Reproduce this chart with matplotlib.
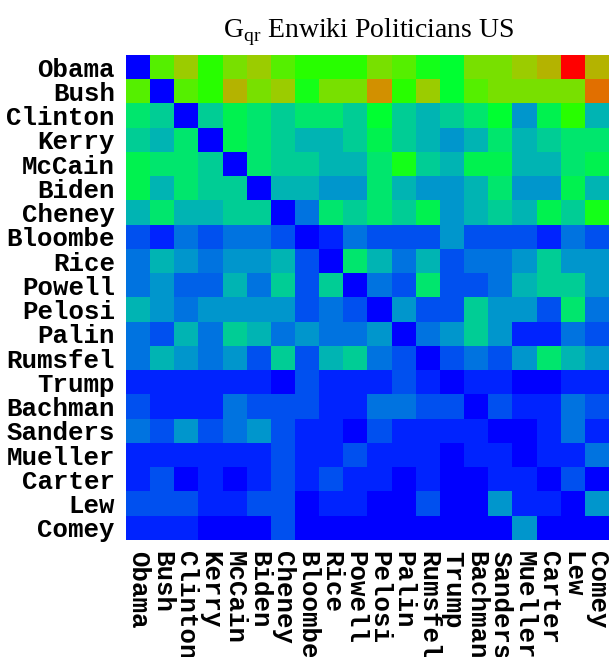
import numpy as np
import matplotlib
matplotlib.use("Agg")
import matplotlib.pyplot as plt
from matplotlib.colors import LinearSegmentedColormap

names = ["Obama", "Bush", "Clinton", "Kerry", "McCain", "Biden", "Cheney",
         "Bloombe", "Rice", "Powell", "Pelosi", "Palin", "Rumsfel", "Trump",
         "Bachman", "Sanders", "Mueller", "Carter", "Lew", "Comey"]

title = "G$_{\\mathrm{qr}}$ Enwiki Politicians US"

# colour level of each cell (0 = lowest, 16 = highest)
row_obama   = [0, 10, 12, 9, 11, 12, 10, 9, 9, 9, 11, 10, 8.5, 8, 11, 11, 12, 13, 16, 13]
row_bush    = [10, 0, 10, 9, 13, 11, 12, 8.5, 11, 11, 14, 9, 12, 8, 10, 11, 11, 11, 11, 15]
row_clinton = [7, 6, 0, 6, 7.5, 7, 6, 7, 7, 6, 8, 6, 5, 6, 7, 8, 4, 7.5, 9, 5]
row_kerry   = [6, 5, 7, 0, 7.5, 7, 6, 5, 5, 6, 7.5, 6, 5, 4, 5, 7, 5, 6, 7, 7]
row_mccain  = [7.5, 7, 7, 6, 0, 7, 6, 6, 5, 5, 7, 8.5, 6, 5, 7.5, 7.5, 5, 5, 7, 7.5]
row_biden   = [7.5, 5, 7, 6, 6, 0, 5, 5, 4, 4, 7, 5, 4, 4, 5, 7, 4, 4, 7.5, 5]
row_cheney  = [5, 7, 5, 5, 6, 6, 0, 3, 7, 6, 7, 6, 7.5, 4, 5, 6, 5, 7.5, 6, 8.5]
row_bloombe = [2, 1, 3, 2, 3, 3, 2, 0, 1, 3, 2, 2, 2, 4, 2, 2, 2, 1, 3, 2]
row_rice    = [3, 5, 4, 3, 4, 4, 5, 2, 0, 7, 5, 3, 5, 2, 3, 3, 4, 6, 4, 4]
row_powell  = [3, 4, 2.5, 2.5, 5, 3, 6, 2, 6, 0, 3, 2, 7, 2, 2, 3, 5, 6, 6, 4]
row_pelosi  = [5, 4, 3, 4, 4, 4, 4, 2, 3, 2, 0, 4, 2, 2, 6, 4, 4, 2, 7, 3]
row_palin   = [3, 2, 5, 3, 6, 5, 3, 4, 3, 3, 4, 0, 3, 4, 6, 4, 1, 1, 3, 2]
row_rumsfel = [3, 5, 4, 3, 4, 2, 6, 2, 5, 6, 3, 2, 0, 2, 3, 2, 4, 7, 5, 4]
row_trump   = [1, 1, 1, 1, 1, 1, 0, 2, 1, 1, 1, 2, 1, 0, 1, 1, 0, 0, 1, 1]
row_bachman = [2, 1, 1, 1, 3, 2, 2, 2, 1, 1, 3, 3, 2, 2, 0, 2, 1, 1, 3, 2]
row_sanders = [3, 2, 4, 2, 3, 4, 2, 1, 1, 0, 2, 1, 1, 1, 1, 0, 0, 1, 3, 1]
row_mueller = [1, 1, 1, 1, 1, 1, 2, 1, 1, 2, 1, 1, 1, 0, 1, 1, 0, 1, 1, 3]
row_carter  = [1, 2, 0, 1, 0, 1, 2, 1, 2, 1, 1, 0, 1, 0, 0, 1, 1, 0, 2, 0]
row_lew     = [2, 2, 2, 1, 1, 2, 2, 0, 1, 1, 0, 0, 2, 0, 0, 4, 1, 1, 0, 4]
row_comey   = [1, 1, 1, 0, 0, 0, 2, 0, 0, 0, 0, 0, 0, 0, 0, 0, 4, 0, 0, 0]

matrix = np.array([row_obama, row_bush, row_clinton, row_kerry, row_mccain,
                   row_biden, row_cheney, row_bloombe, row_rice, row_powell,
                   row_pelosi, row_palin, row_rumsfel, row_trump, row_bachman,
                   row_sanders, row_mueller, row_carter, row_lew, row_comey])

level_colors = [(0, 0, 255), (0, 35, 255), (0, 80, 240), (0, 115, 225),
                (0, 150, 205), (0, 180, 180), (0, 205, 150), (0, 230, 110),
                (0, 255, 50), (40, 255, 0), (85, 240, 0), (120, 225, 0),
                (155, 205, 0), (180, 180, 0), (210, 145, 0), (225, 115, 0),
                (255, 0, 0)]
cmap = LinearSegmentedColormap.from_list(
    "gqr", [tuple(c / 255 for c in col) for col in level_colors], N=512)

plt.rcParams["mathtext.fontset"] = "custom"
plt.rcParams["mathtext.rm"] = "Liberation Serif"

W, H = 609, 657
fig = plt.figure(figsize=(W / 100, H / 100), dpi=100)
ax = fig.add_axes([126 / W, 1 - 540 / H, (609 - 126) / W, (540 - 55) / H])
ax.imshow(matrix, cmap=cmap, vmin=0, vmax=16, aspect="auto",
          interpolation="nearest")
n = len(names)
ax.set_xticks(range(n))
ax.set_yticks(range(n))
lab_font = dict(family="Liberation Mono", weight="bold", size=18.5)
ax.set_xticklabels(names, rotation=-90, va="top", ha="center", **lab_font)
ax.set_yticklabels(names, **lab_font)
ax.tick_params(length=0, pad=8)
for s in ax.spines.values():
    s.set_visible(False)

fig.text(369 / W, 1 - 37 / H, title, ha="center", va="baseline",
         family="Liberation Serif", fontsize=20)

fig.savefig("out.png", dpi=100)
